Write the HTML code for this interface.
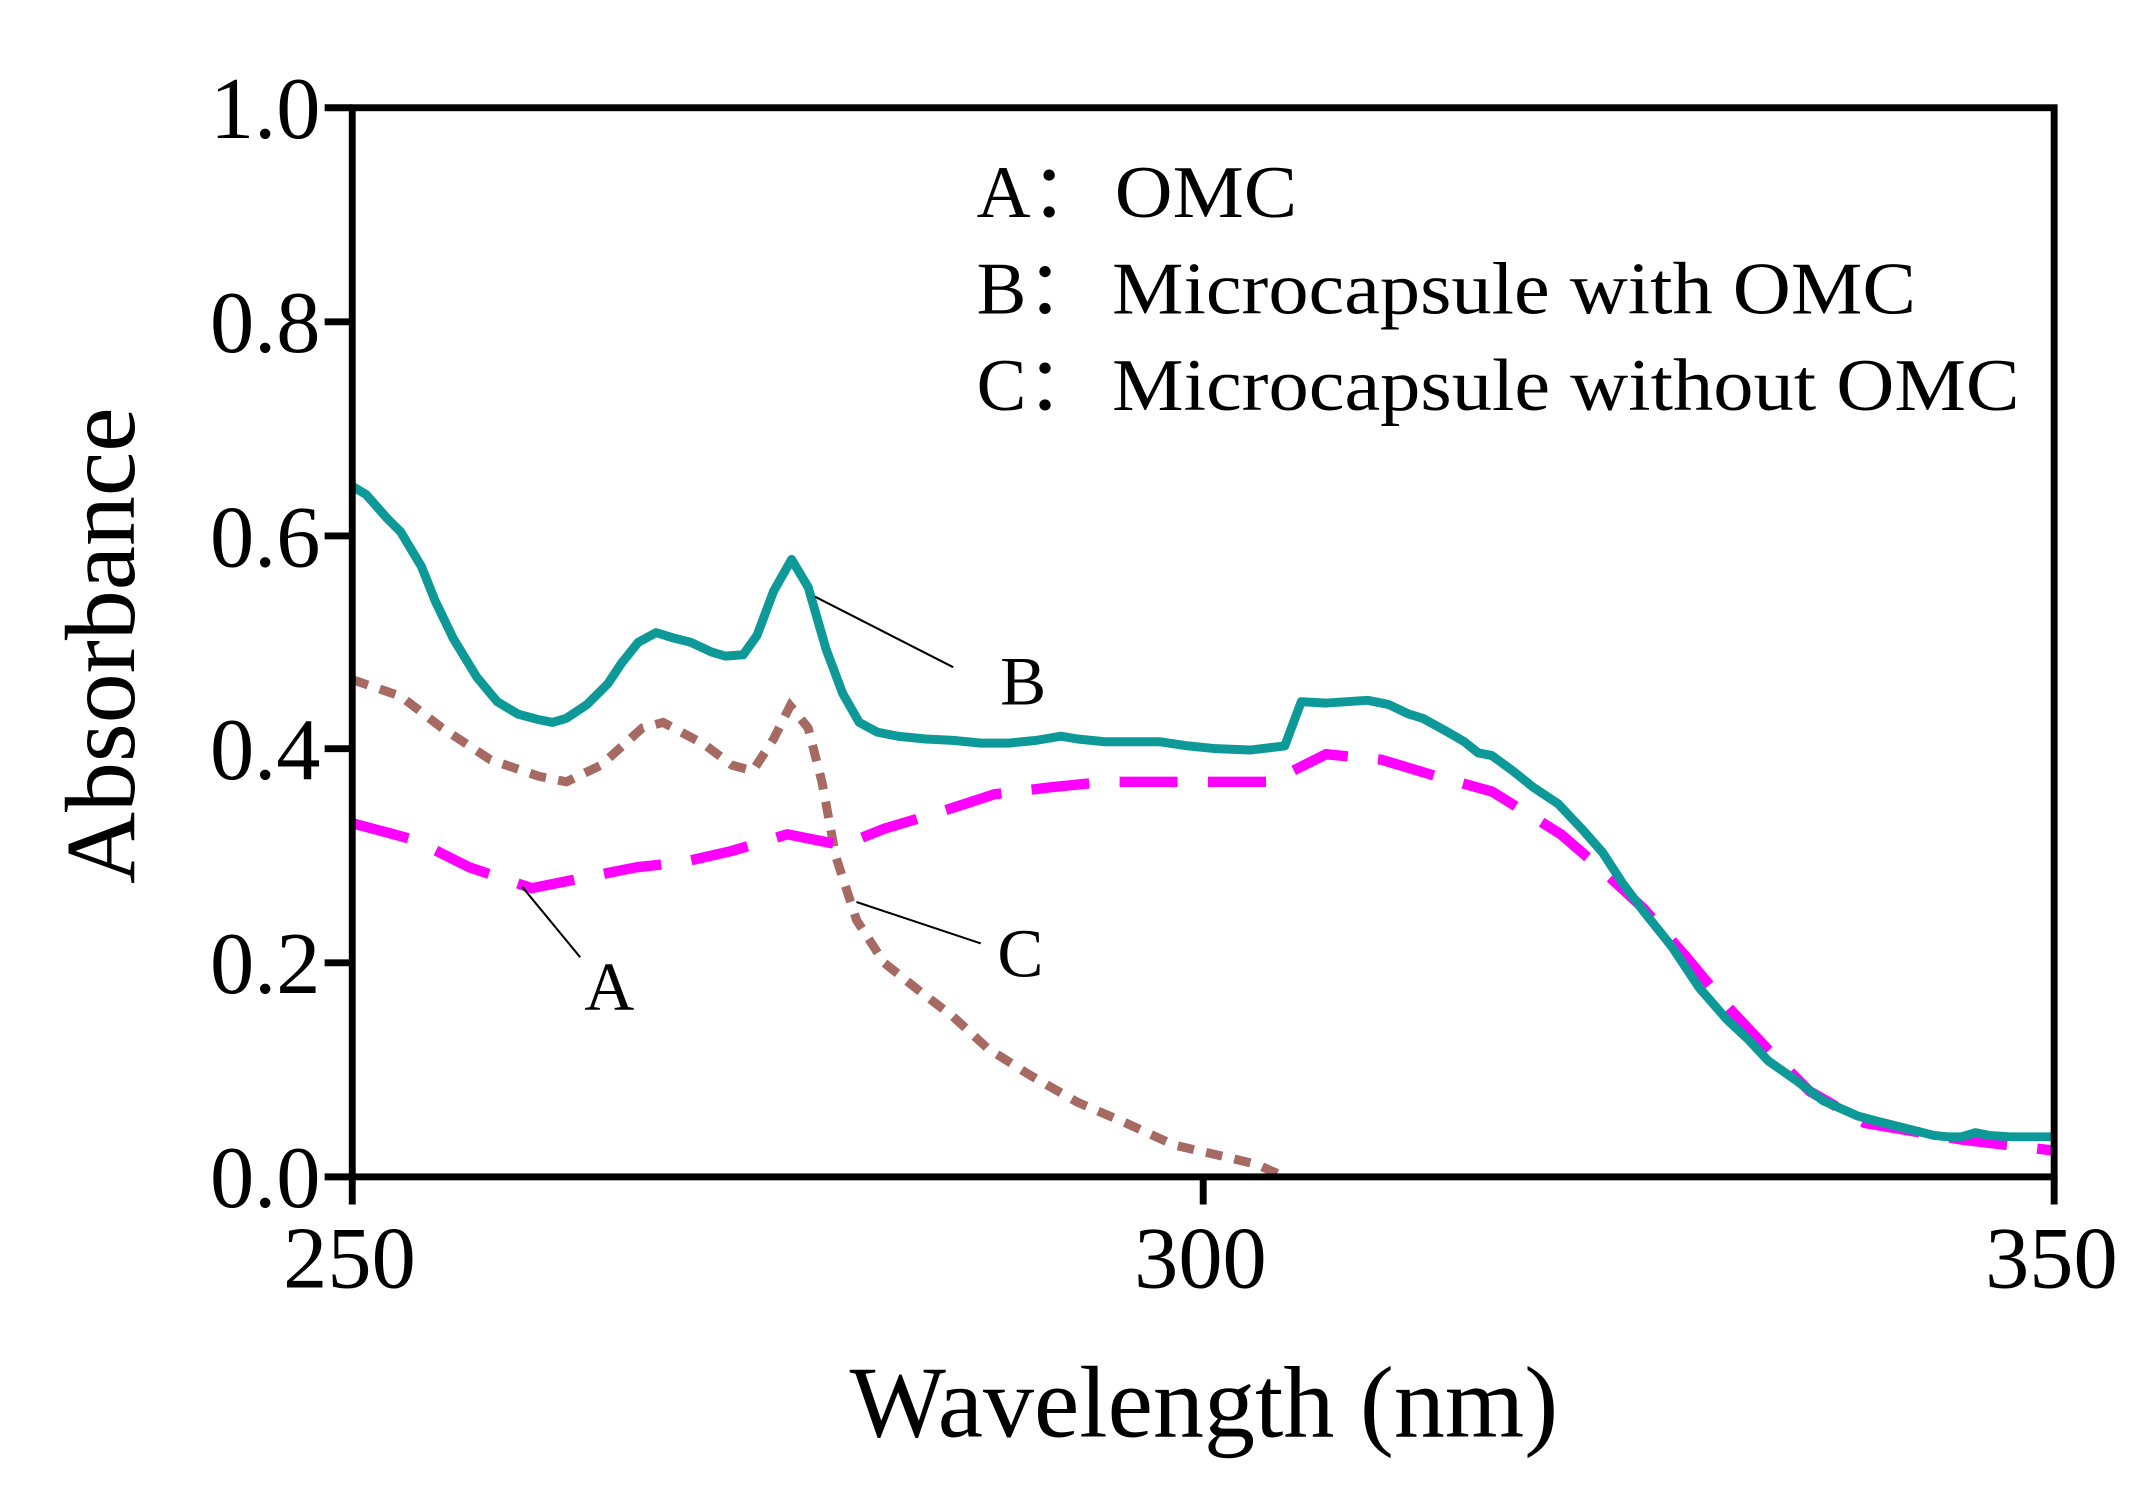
<!DOCTYPE html>
<html><head><meta charset="utf-8"><style>html,body{margin:0;padding:0;background:#fff;}svg{display:block;}</style></head>
<body>
<svg width="2155" height="1507" viewBox="0 0 1560 1091" preserveAspectRatio="none" xmlns="http://www.w3.org/2000/svg" font-family="Liberation Serif, serif">
<rect width="1560" height="1091" fill="#fff"/>
<polyline fill="none" stroke="#a66a63" stroke-width="6.5" stroke-dasharray="12,9" points="255,492 290,504 320,527 355,550 390,562 410,566 435,554 465,527 480,523 510,539 530,554 545,558 560,535 572,511 585,527 595,566 605,620 620,666 640,697 665,717 690,736 715,759 745,778 780,798 815,813 850,829 885,837 910,843 930,852"/>
<polyline fill="none" stroke="#ff00ff" stroke-width="7.5" stroke-dasharray="42,22" points="255,596 300,608 340,628 385,643 420,636 460,628 495,624 530,616 570,604 610,612 640,600 680,588 720,575 760,570 800,566 920,566 960,546 1000,550 1040,562 1080,573 1130,604 1160,630 1190,658 1220,692 1250,728 1280,760 1310,790 1350,813 1420,825 1487,833"/>
<polyline fill="none" stroke="#0e9999" stroke-width="6.5" stroke-linejoin="round" points="255,352 265,358 280,375 290,385 305,410 315,435 328,462 345,490 360,508 375,517 390,521 400,523 410,520 425,510 440,495 450,480 462,465 475,458 488,462 500,465 515,472 525,475 538,474 548,460 560,428 573,405 585,425 598,470 610,502 622,523 635,530 650,533 670,535 690,536 710,538 730,538 750,536 768,533 780,535 800,537 840,537 860,540 880,542 905,543 930,540 942,508 960,509 975,508 990,507 1005,510 1020,517 1030,520 1048,530 1060,537 1070,545 1080,547 1095,558 1110,570 1128,582 1145,600 1160,617 1175,640 1190,660 1210,685 1230,715 1250,738 1265,752 1280,768 1300,782 1320,797 1345,808 1360,812 1380,817 1400,822 1410,823 1420,823 1430,820 1440,822 1455,823 1470,823 1487,823"/>
<rect x="255" y="78" width="1232" height="774" fill="none" stroke="#000" stroke-width="5"/>
<g stroke="#000" stroke-width="5">
<line x1="235" y1="78" x2="255" y2="78"/><line x1="235" y1="233" x2="255" y2="233"/><line x1="235" y1="388" x2="255" y2="388"/><line x1="235" y1="542" x2="255" y2="542"/><line x1="235" y1="697" x2="255" y2="697"/><line x1="235" y1="852" x2="255" y2="852"/>
<line x1="255" y1="852" x2="255" y2="872"/><line x1="871" y1="852" x2="871" y2="872"/><line x1="1487" y1="852" x2="1487" y2="872"/>
</g>
<g font-size="64" text-anchor="end" fill="#000">
<text x="232" y="100">1.0</text><text x="232" y="255">0.8</text><text x="232" y="410">0.6</text><text x="232" y="564">0.4</text><text x="232" y="719">0.2</text><text x="232" y="874">0.0</text>
</g>
<g font-size="64" text-anchor="middle" fill="#000">
<text x="253" y="932">250</text><text x="869" y="932">300</text><text x="1485" y="932">350</text>
</g>
<text x="615" y="1040" font-size="74" textLength="513" lengthAdjust="spacingAndGlyphs">Wavelength (nm)</text>
<text transform="translate(97,640) rotate(-90)" font-size="72" textLength="345" lengthAdjust="spacingAndGlyphs">Absorbance</text>
<g font-size="54" fill="#000">
<text x="707" y="157">A：</text><text x="807" y="157" textLength="132" lengthAdjust="spacingAndGlyphs">OMC</text>
<text x="707" y="227">B：</text><text x="805" y="227" textLength="582" lengthAdjust="spacingAndGlyphs">Microcapsule with OMC</text>
<text x="707" y="297">C：</text><text x="805" y="297" textLength="657" lengthAdjust="spacingAndGlyphs">Microcapsule without OMC</text>
</g>
<g stroke="#000" stroke-width="1.5">
<line x1="590" y1="432" x2="690" y2="483"/>
<line x1="620" y1="653" x2="710" y2="683"/>
<line x1="378" y1="642" x2="420" y2="693"/>
</g>
<g font-size="50" fill="#000">
<text x="724" y="510">B</text><text x="722" y="707">C</text><text x="423" y="731">A</text>
</g>
</svg>
</body></html>
